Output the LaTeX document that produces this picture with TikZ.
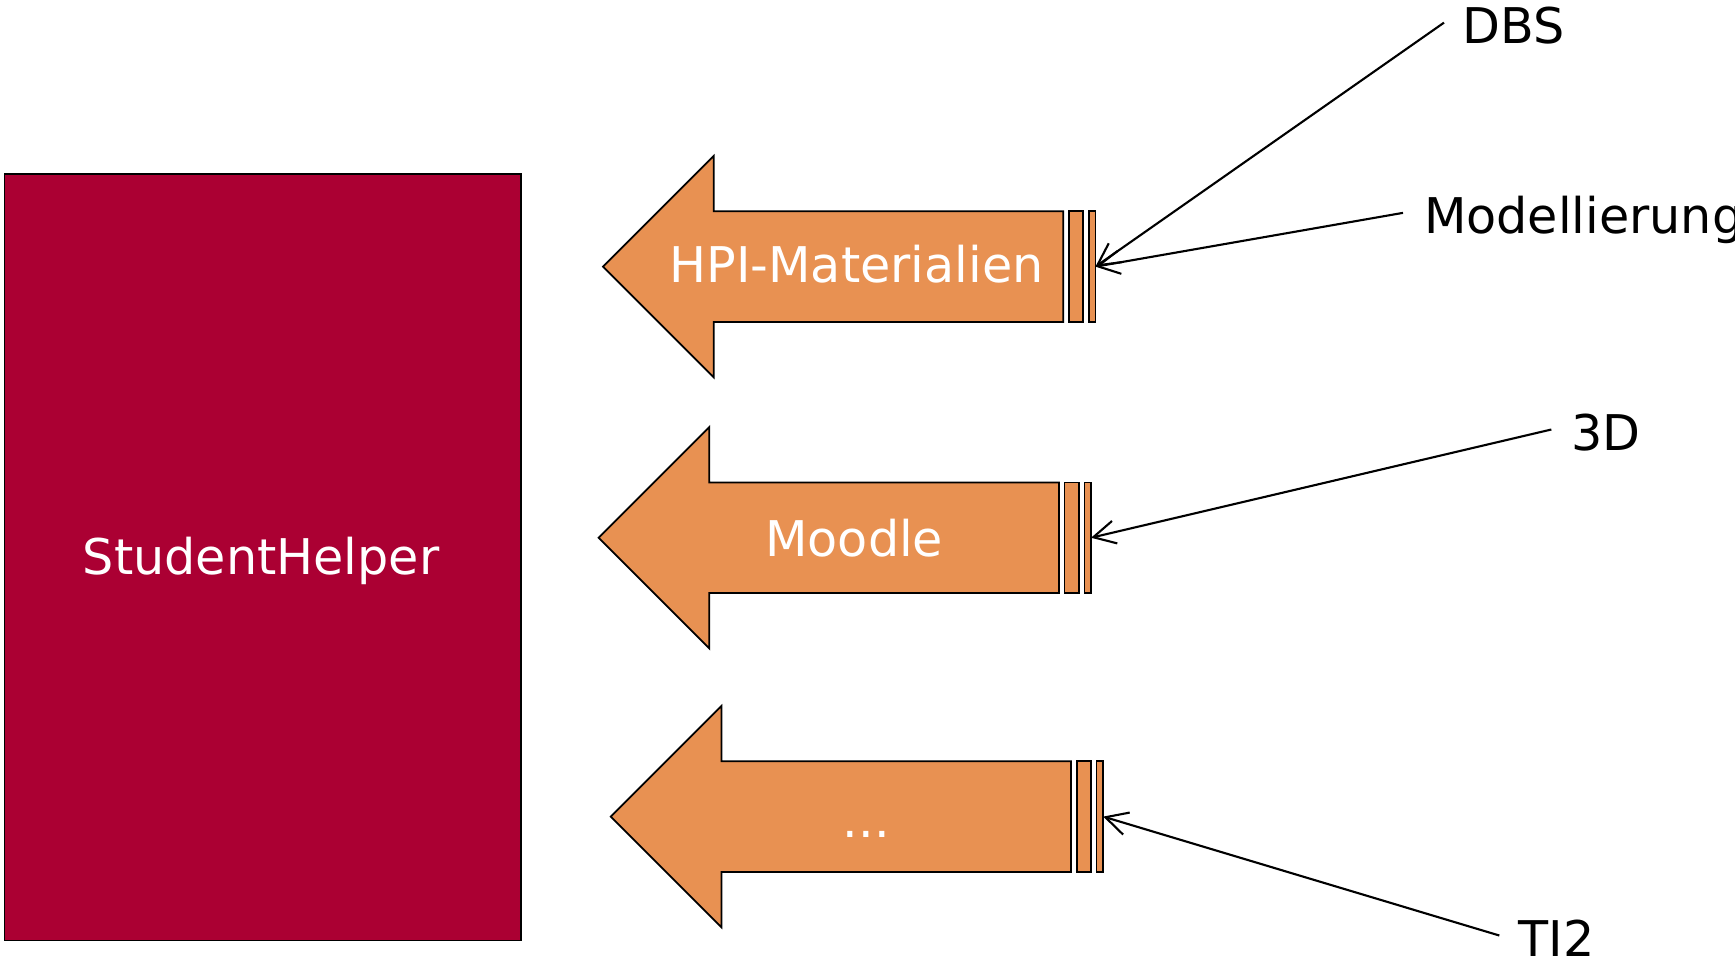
\documentclass[tikz,border=0pt]{standalone}
\usepackage{fontspec}
\setmainfont{DejaVu Sans}
\usetikzlibrary{arrows.meta}
\definecolor{shred}{HTML}{AB0033}
\definecolor{srcorange}{HTML}{E89152}
\tikzset{
  shape line/.style={draw=black, line width=0.5pt},
  bigarrow/.style={shape line, fill=srcorange},
  inner text/.style={text=white, anchor=base, inner sep=0pt, font=\fontsize{14pt}{16pt}\selectfont},
  label text/.style={text=black, anchor=base west, inner ysep=0pt, text height=0.41cm, text depth=0pt, font=\fontsize{14pt}{16pt}\selectfont},
  conn/.style={draw=black, line width=0.6pt, -{Straight Barb[length=2.2mm,width=2.3mm,line width=0.6pt]}}
}
\begin{document}
\begin{tikzpicture}[x=0.011065cm, y=-0.011065cm]
\useasboundingbox (0,0) rectangle (1568,866.7);

% StudentHelper box
\draw[shape line, fill=shred] (4,157) rectangle (471,850);
\node[inner text] (sh) at (236,519) {StudentHelper};

% Arrow 1: HPI-Materialien
\draw[bigarrow] (545,241) -- (645,141) -- (645,191) -- (961,191) -- (961,291) -- (645,291) -- (645,341) -- cycle;
\draw[bigarrow] (966,191) rectangle (979,291);
\draw[bigarrow] (984,191) rectangle (990,291);
\node[inner text] (hpi) at (774,255.5) {HPI-Materialien};
\coordinate (hpiin) at (990,241);

% Arrow 2: Moodle
\draw[bigarrow] (541,486) -- (641,386) -- (641,436) -- (957,436) -- (957,536) -- (641,536) -- (641,586) -- cycle;
\draw[bigarrow] (962,436) rectangle (975,536);
\draw[bigarrow] (980,436) rectangle (986,536);
\node[inner text] (moodle) at (772,503) {Moodle};
\coordinate (moodlein) at (986,486);

% Arrow 3: ...
\draw[bigarrow] (552,738) -- (652,638) -- (652,688) -- (968,688) -- (968,788) -- (652,788) -- (652,838) -- cycle;
\draw[bigarrow] (973,688) rectangle (986,788);
\draw[bigarrow] (991,688) rectangle (997,788);
\node[inner text] (dots) at (783,756.5) {...};
\coordinate (dotsin) at (997,738);

% Source labels
\node[label text, inner xsep=16*0.011065cm] (dbs) at (1305,39) {DBS};
\node[label text, inner xsep=18.4*0.011065cm] (mod) at (1268,210.9) {Modellierung};
\node[label text, inner xsep=17.3*0.011065cm] (d3) at (1402,406.7) {3D};
\node[label text, inner xsep=17*0.011065cm] (ti2) at (1355,864) {TI2};

% Connectors
\draw[conn] (dbs.west) -- (hpiin);
\draw[conn] (mod.west) -- (hpiin);
\draw[conn] (d3.west) -- (moodlein);
\draw[conn] (ti2.west) -- (dotsin);
\end{tikzpicture}
\end{document}
